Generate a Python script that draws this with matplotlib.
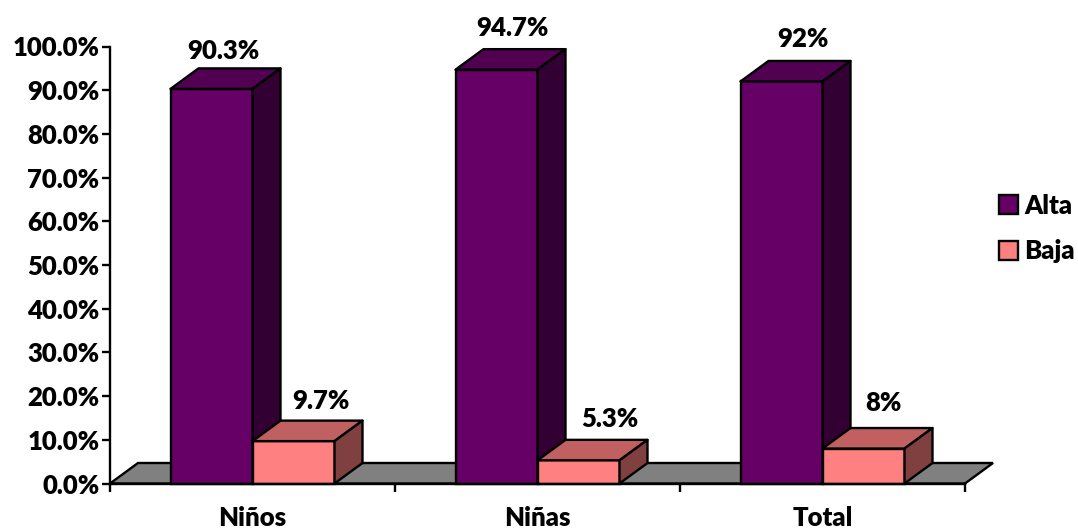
import numpy as np
import matplotlib
matplotlib.use("Agg")
import matplotlib.pyplot as plt
from matplotlib.patches import Polygon, Patch

categories = ["Niños", "Niñas", "Total"]
alta = [90.3, 94.7, 92.0]
baja = [9.7, 5.3, 8.0]
alta_labels = ["90.3%", "94.7%", "92%"]
baja_labels = ["9.7%", "5.3%", "8%"]
y_ticks = [0, 10, 20, 30, 40, 50, 60, 70, 80, 90, 100]

# label nudges in pixels from the front top corner of the bar's centre
alta_nudge = [(12, 38), (16, 42), (21, 42)]
baja_nudge = [(27, 40), (31, 41), (20, 46)]

W, H = 1078, 529
plt.rcParams['font.family'] = ['Lato', 'DejaVu Sans']
plt.rcParams['font.weight'] = 'heavy'
plt.rcParams['font.size'] = 18.5

fig = plt.figure(figsize=(W / 100, H / 100), dpi=100)
ax = fig.add_axes([110 / W, 1 - 483.5 / H, 855 / W, 437 / H])
ax.set_xlim(-0.5, 2.5)
ax.set_ylim(0, 100)

# fake 3d depth in data units
dx = 28 / 285
dy = 20.5 / 4.37
bar_w = 82 / 285
lw = 1.7


def box(x0, val, front, top, side):
    x1 = x0 + bar_w
    ax.bar(x0, val, width=bar_w, align='edge', color=front, edgecolor='black',
           linewidth=lw, zorder=4, clip_on=False)
    ax.add_patch(Polygon([(x0, val), (x0 + dx, val + dy), (x1 + dx, val + dy), (x1, val)],
                         facecolor=top, edgecolor='black', linewidth=lw, zorder=4,
                         clip_on=False, joinstyle='round'))
    ax.add_patch(Polygon([(x1, 0), (x1 + dx, dy), (x1 + dx, val + dy), (x1, val)],
                         facecolor=side, edgecolor='black', linewidth=lw, zorder=4,
                         clip_on=False, joinstyle='round'))


# floor
ax.add_patch(Polygon([(-0.5, 0), (-0.5 + dx, dy), (2.5 + dx, dy), (2.5, 0)],
                     facecolor='#808080', edgecolor='black', linewidth=lw,
                     zorder=1, clip_on=False))

x = np.arange(len(categories))
for i in x:
    box(i - bar_w, alta[i], '#660066', '#520052', '#330033')
for i in x:
    box(i, baja[i], '#FF8080', '#C06060', '#804040')

for i in x:
    ax.annotate(alta_labels[i], (i - bar_w / 2, alta[i]), xytext=alta_nudge[i],
                textcoords='offset pixels', ha='center', va='center', zorder=6,
                annotation_clip=False)
    ax.annotate(baja_labels[i], (i + bar_w / 2, baja[i]), xytext=baja_nudge[i],
                textcoords='offset pixels', ha='center', va='center', zorder=6,
                annotation_clip=False)

for s in ['top', 'right']:
    ax.spines[s].set_visible(False)
for s in ['left', 'bottom']:
    ax.spines[s].set_linewidth(lw)
    ax.spines[s].set_zorder(5)

ax.set_yticks(y_ticks)
ax.set_yticklabels([f"{v:.1f}%" for v in y_ticks])
ax.set_xticks([-0.5, 0.5, 1.5, 2.5])
ax.set_xticklabels([])
ax.set_xticks(x, categories, minor=True)
ax.tick_params(axis='both', which='major', length=5.5, width=lw, pad=2)
ax.tick_params(axis='x', which='minor', length=0, pad=16)

handles = [Patch(facecolor='#660066', edgecolor='black', linewidth=lw, label='Alta'),
           Patch(facecolor='#FF8080', edgecolor='black', linewidth=lw, label='Baja')]
fig.legend(handles=handles, loc='center left', bbox_to_anchor=(994 / W, 1 - 228.5 / H),
           frameon=False, handlelength=0.75, handleheight=0.75, handletextpad=0.22,
           labelspacing=0.85, borderpad=0.2, borderaxespad=0)

fig.savefig('out.png', dpi=100)
